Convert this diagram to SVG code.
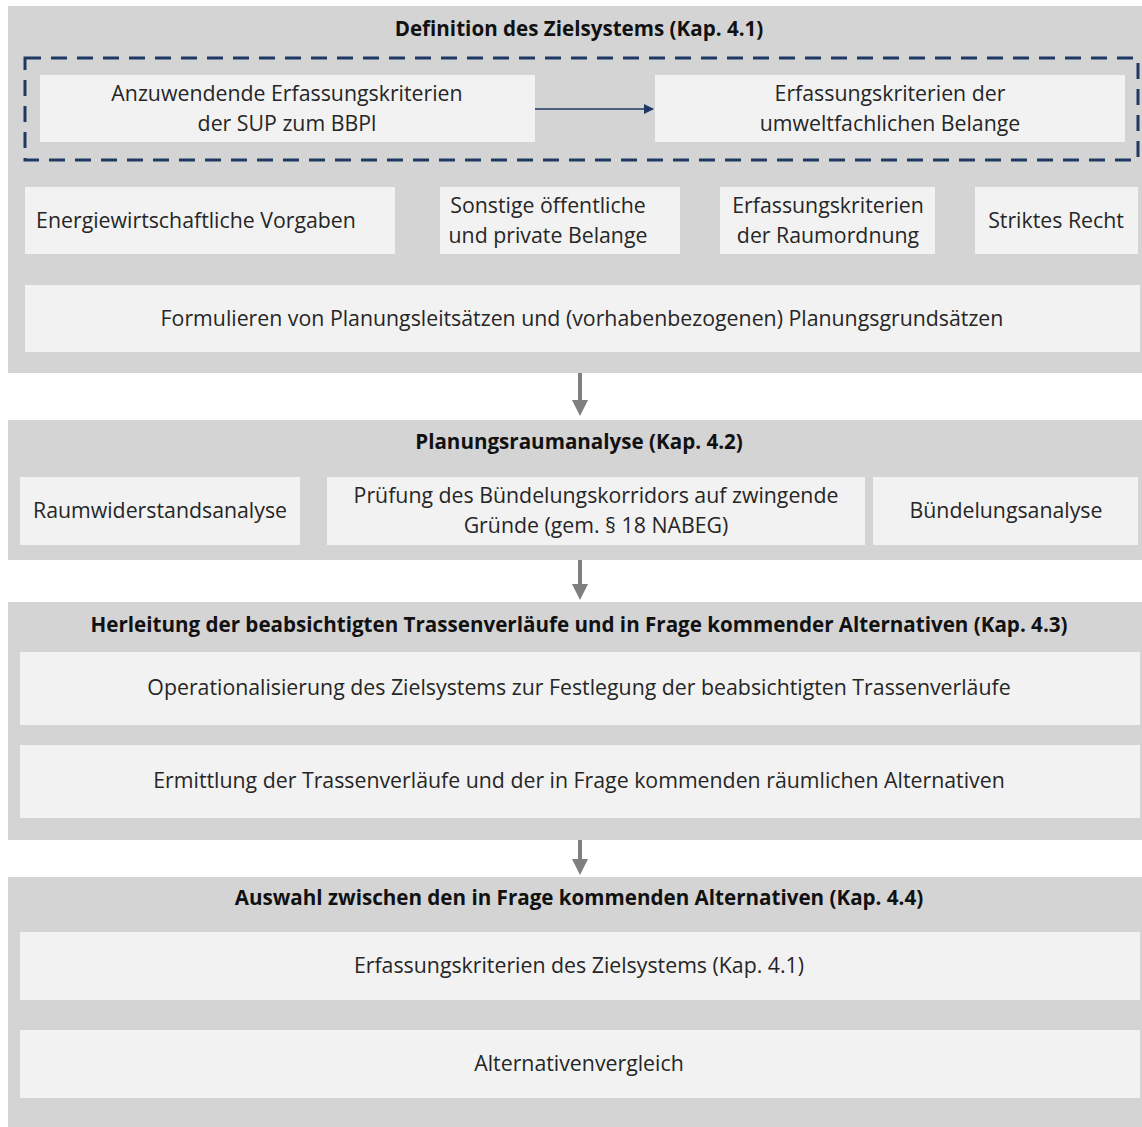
<svg xmlns="http://www.w3.org/2000/svg" width="1142" height="1127" viewBox="0 0 1142 1127">
<style>
.panel{fill:#d4d4d4}
.box{fill:#f2f2f2}
.t{font-family:"Open Sans","Liberation Sans",Arial,sans-serif;font-size:21.3px;fill:#262626;text-anchor:middle}
.h{font-family:"Open Sans","Liberation Sans",Arial,sans-serif;font-size:20.6px;font-weight:bold;fill:#111;text-anchor:middle}
.conn{stroke:#7f7f7f;stroke-width:4;fill:none}
</style>
<defs>
<marker id="ga" markerWidth="4" markerHeight="4" refX="2" refY="2" orient="auto" markerUnits="strokeWidth" viewBox="0 0 4 4"><path d="M0,0 L4,2 L0,4 z" fill="#7f7f7f"/></marker>
<marker id="na" markerWidth="10" markerHeight="10" refX="9" refY="5" orient="auto" markerUnits="userSpaceOnUse" viewBox="0 0 10 10"><path d="M0,0 L10,5 L0,10 z" fill="#1f3864"/></marker>
</defs>
<rect width="1142" height="1127" fill="#fff"/>
<g id="panel1">
<rect class="panel" x="8" y="6" width="1134" height="367"/>
<text class="h" x="579" y="36">Definition des Zielsystems (Kap. 4.1)</text>
<rect x="25" y="58" width="1113" height="102" fill="none" stroke="#1f3864" stroke-width="3" stroke-dasharray="16,10"/>
</g>
<g id="n_sup">
<rect class="box" x="40" y="75" width="495" height="67"/>
<text class="t" x="287" y="101">Anzuwendende Erfassungskriterien</text>
<text class="t" x="287" y="131">der SUP zum BBPl</text>
</g>
<g id="n_umwelt">
<rect class="box" x="655" y="75" width="470" height="67"/>
<text class="t" x="890" y="101">Erfassungskriterien der</text>
<text class="t" x="890" y="131">umweltfachlichen Belange</text>
</g>
<g id="n_energie">
<rect class="box" x="25" y="187" width="370" height="67"/>
<text class="t" x="196" y="228">Energiewirtschaftliche Vorgaben</text>
</g>
<g id="n_sonstige">
<rect class="box" x="440" y="187" width="240" height="67"/>
<text class="t" x="548" y="213">Sonstige öffentliche</text>
<text class="t" x="548" y="243">und private Belange</text>
</g>
<g id="n_raumordnung">
<rect class="box" x="720" y="187" width="215" height="67"/>
<text class="t" x="828" y="213">Erfassungskriterien</text>
<text class="t" x="828" y="243">der Raumordnung</text>
</g>
<g id="n_recht">
<rect class="box" x="975" y="187" width="163" height="67"/>
<text class="t" x="1056" y="228">Striktes Recht</text>
</g>
<g id="n_formulieren">
<rect class="box" x="25" y="285" width="1115" height="67"/>
<text class="t" x="582" y="326">Formulieren von Planungsleitsätzen und (vorhabenbezogenen) Planungsgrundsätzen</text>
</g>
<g id="panel2">
<rect class="panel" x="8" y="420" width="1134" height="140"/>
<text class="h" x="579" y="449">Planungsraumanalyse (Kap. 4.2)</text>
</g>
<g id="n_raumwid">
<rect class="box" x="20" y="477" width="280" height="68"/>
<text class="t" x="160" y="518">Raumwiderstandsanalyse</text>
</g>
<g id="n_pruefung">
<rect class="box" x="327" y="477" width="538" height="68"/>
<text class="t" x="596" y="503">Prüfung des Bündelungskorridors auf zwingende</text>
<text class="t" x="596" y="533">Gründe (gem. § 18 NABEG)</text>
</g>
<g id="n_buendel">
<rect class="box" x="873" y="477" width="265" height="68"/>
<text class="t" x="1006" y="518">Bündelungsanalyse</text>
</g>
<g id="panel3">
<rect class="panel" x="8" y="602" width="1134" height="238"/>
<text class="h" x="579" y="632">Herleitung der beabsichtigten Trassenverläufe und in Frage kommender Alternativen (Kap. 4.3)</text>
</g>
<g id="n_operational">
<rect class="box" x="20" y="652" width="1120" height="73"/>
<text class="t" x="579" y="695">Operationalisierung des Zielsystems zur Festlegung der beabsichtigten Trassenverläufe</text>
</g>
<g id="n_ermittlung">
<rect class="box" x="20" y="745" width="1120" height="73"/>
<text class="t" x="579" y="788">Ermittlung der Trassenverläufe und der in Frage kommenden räumlichen Alternativen</text>
</g>
<g id="panel4">
<rect class="panel" x="8" y="877" width="1134" height="250"/>
<text class="h" x="579" y="905">Auswahl zwischen den in Frage kommenden Alternativen (Kap. 4.4)</text>
</g>
<g id="n_erfassung">
<rect class="box" x="20" y="932" width="1120" height="68"/>
<text class="t" x="579" y="973">Erfassungskriterien des Zielsystems (Kap. 4.1)</text>
</g>
<g id="n_vergleich">
<rect class="box" x="20" y="1030" width="1120" height="68"/>
<text class="t" x="579" y="1071">Alternativenvergleich</text>
</g>
<g id="connectors">
<line x1="535" y1="109" x2="653" y2="109" stroke="#1f3864" stroke-width="1.5" marker-end="url(#na)"/>
<line class="conn" x1="580" y1="373" x2="580" y2="408" marker-end="url(#ga)"/>
<line class="conn" x1="580" y1="560" x2="580" y2="592" marker-end="url(#ga)"/>
<line class="conn" x1="580" y1="840" x2="580" y2="867" marker-end="url(#ga)"/>
</g>
</svg>
